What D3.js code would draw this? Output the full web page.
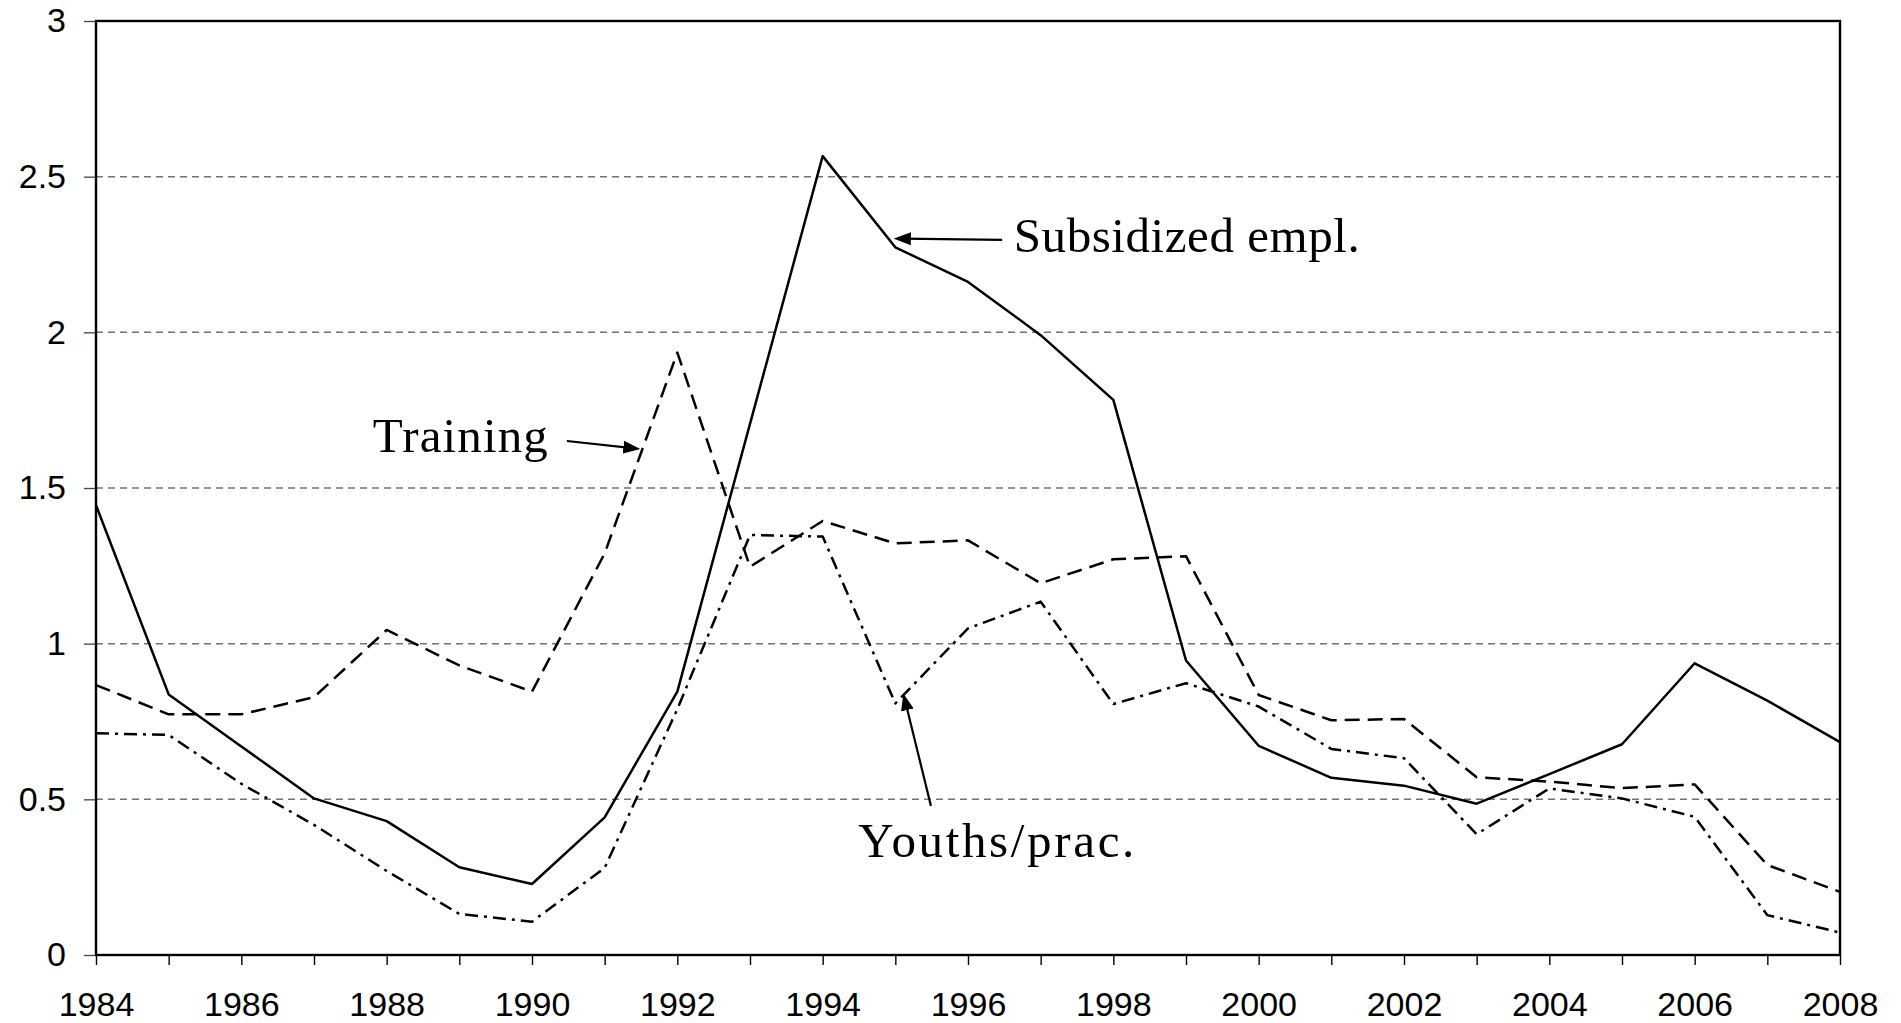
<!DOCTYPE html>
<html>
<head>
<meta charset="utf-8">
<script src="https://cdn.jsdelivr.net/npm/d3@7"></script>
<style>
  html, body { margin: 0; padding: 0; background: #fff; }
  svg { display: block; }
</style>
</head>
<body>
<div id="chart"></div>
<script>
// ---------- data ----------
const years = [1984, 1985, 1986, 1987, 1988, 1989, 1990, 1991, 1992, 1993, 1994, 1995, 1996,
               1997, 1998, 1999, 2000, 2001, 2002, 2003, 2004, 2005, 2006, 2007, 2008];
const subsidized = [1.445, 0.837, 0.67, 0.503, 0.43, 0.282, 0.228, 0.442, 0.846, 1.706, 2.566, 2.273, 2.162,
                    1.991, 1.783, 0.946, 0.672, 0.569, 0.544, 0.486, 0.581, 0.677, 0.937, 0.817, 0.684];
const training = [0.867, 0.773, 0.773, 0.828, 1.044, 0.93, 0.846, 1.29, 1.935, 1.247, 1.394, 1.322, 1.332,
                  1.194, 1.271, 1.281, 0.835, 0.754, 0.758, 0.571, 0.557, 0.536, 0.548, 0.289, 0.203];
const youths = [0.712, 0.707, 0.55, 0.418, 0.27, 0.132, 0.107, 0.28, 0.79, 1.349, 1.344, 0.808, 1.049,
                1.135, 0.806, 0.873, 0.798, 0.662, 0.632, 0.388, 0.535, 0.503, 0.444, 0.128, 0.072];
const yTicks = [0, 0.5, 1, 1.5, 2, 2.5, 3];
const yTickLabels = ["0", "0.5", "1", "1.5", "2", "2.5", "3"];
const xLabelYears = [1984, 1986, 1988, 1990, 1992, 1994, 1996, 1998, 2000, 2002, 2004, 2006, 2008];

// annotations in data coordinates
const annLabels = ["Training", "Subsidized empl.", "Youths/prac."];
const annTextPos = [[1987.81, 1.616], [1996.63, 2.258], [1994.49, 0.315]];
const annArrowFrom = [[1990.48, 1.651], [1996.47, 2.297], [1995.49, 0.479]];
const annArrowTo = [[1991.49, 1.625], [1994.98, 2.301], [1995.11, 0.840]];

// ---------- layout ----------
const W = 1901, H = 1023;
const mLeft = 96, mRight = 1840, mTop = 21, mBottom = 955;
const annWidths = [175, 346, 276];

const svg = d3.select("#chart").append("svg").attr("width", W).attr("height", H);

const x = d3.scaleLinear().domain([1984, 2008]).range([mLeft, mRight]);
const y = d3.scaleLinear().domain([0, 3]).range([mBottom, mTop]);

// gridlines
svg.append("g").selectAll("line")
  .data(yTicks.filter(d => d > 0 && d < 3))
  .join("line")
  .attr("x1", mLeft).attr("x2", mRight)
  .attr("y1", d => y(d)).attr("y2", d => y(d))
  .attr("stroke", "#737373").attr("stroke-width", 1.5)
  .attr("stroke-dasharray", "7,5");

// axes
const xAxis = d3.axisBottom(x)
  .tickValues(years)
  .tickSize(10)
  .tickPadding(27)
  .tickFormat(d => xLabelYears.includes(d) ? String(d) : "");
const gx = svg.append("g").attr("transform", `translate(0,${mBottom})`).call(xAxis);
gx.select(".domain").remove();
gx.selectAll(".tick line").attr("stroke", "#000").attr("stroke-width", 1.4);
gx.selectAll("text").attr("font-family", "'Liberation Sans', Arial, sans-serif")
  .attr("font-size", 34).attr("fill", "#000");

const yAxis = d3.axisLeft(y)
  .tickValues(yTicks)
  .tickSize(12)
  .tickPadding(18)
  .tickFormat((d, i) => yTickLabels[i]);
const gy = svg.append("g").attr("transform", `translate(${mLeft},0)`).call(yAxis);
gy.select(".domain").remove();
gy.selectAll(".tick line").attr("stroke", "#444").attr("stroke-width", 1.3);
gy.selectAll("text").attr("font-family", "'Liberation Sans', Arial, sans-serif")
  .attr("font-size", 34).attr("fill", "#000");

// frame
svg.append("rect")
  .attr("x", mLeft).attr("y", mTop)
  .attr("width", mRight - mLeft).attr("height", mBottom - mTop)
  .attr("fill", "none").attr("stroke", "#000").attr("stroke-width", 2.4);

// series
const line = d3.line().x((d, i) => x(years[i])).y(d => y(d));
const series = [
  { values: subsidized, dash: null },
  { values: training, dash: "15,8" },
  { values: youths, dash: "13,6,3,6" }
];
svg.append("g").selectAll("path")
  .data(series)
  .join("path")
  .attr("d", d => line(d.values))
  .attr("fill", "none")
  .attr("stroke", "#000")
  .attr("stroke-width", 2.5)
  .attr("stroke-linejoin", "round")
  .attr("stroke-dasharray", d => d.dash);

// arrow marker
svg.append("defs").append("marker")
  .attr("id", "arrow")
  .attr("viewBox", "-17 -7 17 14")
  .attr("refX", 0).attr("refY", 0)
  .attr("markerWidth", 17).attr("markerHeight", 14)
  .attr("markerUnits", "userSpaceOnUse")
  .attr("orient", "auto")
  .append("path")
  .attr("d", "M0,0 L-17,-6.5 L-17,6.5 Z")
  .attr("fill", "#000");

// annotations
const ann = svg.append("g");
annLabels.forEach((lbl, i) => {
  const x1 = x(annArrowFrom[i][0]), y1 = y(annArrowFrom[i][1]);
  const x2 = x(annArrowTo[i][0]), y2 = y(annArrowTo[i][1]);
  const len = Math.hypot(x2 - x1, y2 - y1);
  const sh = 8;
  const xe = x2 - (x2 - x1) / len * sh, ye = y2 - (y2 - y1) / len * sh;
  ann.append("line")
    .attr("x1", x1).attr("y1", y1).attr("x2", xe).attr("y2", ye)
    .attr("stroke", "#000").attr("stroke-width", 2.2);
  ann.append("path")
    .attr("d", `M${xe},${ye} L${x2},${y2}`)
    .attr("stroke", "none").attr("fill", "none")
    .attr("marker-end", "url(#arrow)");
  ann.append("text")
    .attr("x", x(annTextPos[i][0])).attr("y", y(annTextPos[i][1]))
    .attr("font-family", "'Liberation Serif', 'Times New Roman', serif")
    .attr("font-size", 49).attr("fill", "#000")
    .attr("textLength", annWidths[i]).attr("lengthAdjust", "spacing")
    .text(lbl);
});
</script>
</body>
</html>
